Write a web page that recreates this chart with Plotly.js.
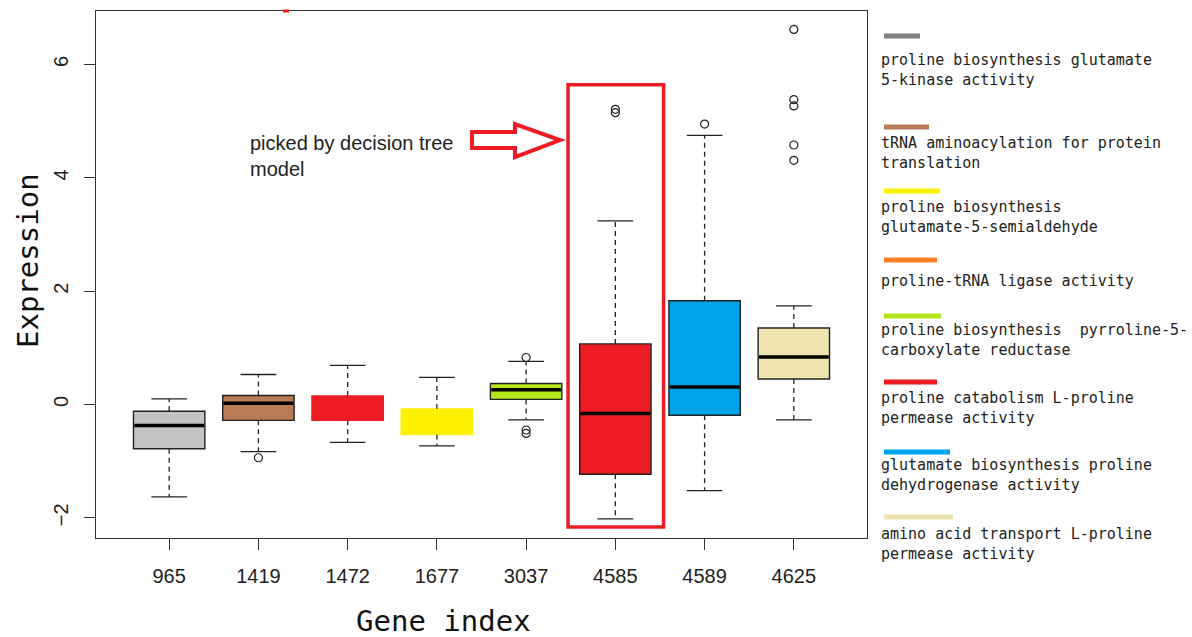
<!DOCTYPE html>
<html>
<head>
<meta charset="utf-8">
<script src="https://cdn.plot.ly/plotly-3.0.1.min.js"></script>
<style>html,body{margin:0;padding:0;background:#fff;}#chart{width:1192px;height:637px;}</style>
</head>
<body>
<div id="chart"></div>
<script>
// ---- data ----
const genes      = ['965','1419','1472','1677','3037','4585','4589','4625'];
const q1         = [-0.78, -0.28, -0.28, -0.53, 0.09, -1.23, -0.19, 0.45];
const medians    = [-0.37,  0.02, -0.07, -0.30, 0.26, -0.16,  0.31, 0.84];
const q3         = [-0.12,  0.16,  0.15, -0.08, 0.37,  1.07,  1.83, 1.35];
const lowWhisker = [-1.63, -0.83, -0.67, -0.73, -0.27, -2.02, -1.52, -0.27];
const highWhisker= [ 0.10,  0.53,  0.69,  0.48,  0.76,  3.24,  4.75, 1.74];
const outliers   = [[], [-0.94], [], [], [0.83, -0.45, -0.51], [5.15, 5.21], [4.95], [6.62, 5.38, 5.27, 4.58, 4.31]];

const legendLabels = [
  ['proline biosynthesis glutamate', '5-kinase activity'],
  ['tRNA aminoacylation for protein', 'translation'],
  ['proline biosynthesis', 'glutamate-5-semialdehyde'],
  ['proline-tRNA ligase activity'],
  ['proline biosynthesis\u00a0\u00a0pyrroline-5-', 'carboxylate reductase'],
  ['proline catabolism L-proline', 'permease activity'],
  ['glutamate biosynthesis proline', 'dehydrogenase activity'],
  ['amino acid transport L-proline', 'permease activity']
];
const noteLines = ['picked by decision tree', 'model'];
const xTitle = 'Gene index';
const yTitle = 'Expression';
const highlighted = '4585';

// ---- styles ----
const boxFill   = ['#C3C3C3','#B97A57','#ED1C24','#FFF200','#B5E61D','#ED1C24','#00A2E8','#EFE4B0'];
const boxLine   = ['#222','#222','#ED1C24','#FFF200','#222','#222','#222','#222'];
const legendCol = ['#7F7F7F','#B97A57','#FFF200','#FF7F27','#B5E61D','#ED1C24','#00A2E8','#EFE4B0'];
const legendSwY = [36,127,191,260,316,382,452,517];
const legendSwX1= [922,931,942,939,943,939,952,955];
const legendTxY = [63,146,210,281,333,401,468,537];

// plot area in pixels
const PL = 96, PR = 867, PT = 11, PB = 538;
const px = x => (x - PL) / (PR - PL);
const py = y => (PB - y) / (PB - PT);

const pos = genes.map((g, i) => i + 1);
const traces = [];

// whiskers (dashed) + caps
const wx = [], wy = [], cx = [], cy = [];
pos.forEach((p, i) => {
  wx.push(p, p, null, p, p, null);
  wy.push(q3[i], highWhisker[i], null, q1[i], lowWhisker[i], null);
  cx.push(p - 0.2, p + 0.2, null, p - 0.2, p + 0.2, null);
  cy.push(highWhisker[i], highWhisker[i], null, lowWhisker[i], lowWhisker[i], null);
});
traces.push({type:'scatter', mode:'lines', x:wx, y:wy, line:{color:'#222', width:1.3, dash:'5px,4px'}, hoverinfo:'skip', showlegend:false});
traces.push({type:'scatter', mode:'lines', x:cx, y:cy, line:{color:'#222', width:1.3}, hoverinfo:'skip', showlegend:false});

// outliers
const ox = [], oy = [];
outliers.forEach((arr, i) => arr.forEach(v => { ox.push(pos[i]); oy.push(v); }));
traces.push({type:'scatter', mode:'markers', x:ox, y:oy, marker:{symbol:'circle-open', size:8, color:'#222', line:{width:1.2}}, showlegend:false});

// boxes
pos.forEach((p, i) => {
  traces.push({
    type:'box', x:[p], q1:[q1[i]], median:[medians[i]], q3:[q3[i]],
    lowerfence:[q1[i]], upperfence:[q3[i]], width:0.8, whiskerwidth:0,
    fillcolor:boxFill[i], line:{color:boxLine[i], width:1.4}, boxpoints:false,
    name:genes[i], showlegend:false
  });
});
// thick medians
pos.forEach((p, i) => {
  if (boxLine[i] !== '#222') return;
  traces.push({
    type:'box', x:[p], q1:[medians[i]], median:[medians[i]], q3:[medians[i]],
    lowerfence:[medians[i]], upperfence:[medians[i]], width:0.78, whiskerwidth:0,
    fillcolor:'rgba(0,0,0,0)', line:{color:'#000', width:3.5}, boxpoints:false,
    showlegend:false, hoverinfo:'skip'
  });
});

// shapes: highlight rectangle, arrow, legend swatches
const hi = genes.indexOf(highlighted) + 1;
const shapes = [
  {type:'rect', xref:'x', yref:'y', x0:hi-0.53, x1:hi+0.54, y0:-2.16, y1:5.645, line:{color:'#ED1C24', width:3.5}},
  {type:'path', xref:'paper', yref:'paper',
   path:`M ${px(472)},${py(132)} L ${px(515)},${py(132)} L ${px(515)},${py(124)} L ${px(560)},${py(140)} L ${px(515)},${py(157)} L ${px(515)},${py(148)} L ${px(472)},${py(148)} Z`,
   fillcolor:'#fff', line:{color:'#ED1C24', width:4}},
  {type:'rect', xref:'paper', yref:'paper', x0:px(283), x1:px(289), y0:py(12.5), y1:py(9.5), fillcolor:'#ED1C24', line:{width:0}}
];
legendCol.forEach((c, i) => {
  shapes.push({type:'line', xref:'paper', yref:'paper', x0:px(884), x1:px(legendSwX1[i]-2), y0:py(legendSwY[i]), y1:py(legendSwY[i]),
    line:{color:c, width:5}});
});

const annotations = [];
legendLabels.forEach((lines, i) => {
  const mid = legendTxY[i] + (lines.length - 1) * 14.3 / 2;
  annotations.push({xref:'paper', yref:'paper', x:px(880), y:py(mid), xanchor:'left', yanchor:'middle', align:'left',
    text:lines.join('<br>'), showarrow:false, borderpad:0, font:{family:'DejaVu Sans Mono', size:15, color:'#222'}});
});
annotations.push({xref:'paper', yref:'paper', x:px(249), y:py(156), xanchor:'left', yanchor:'middle', align:'left',
  text:noteLines.join('<br>'), showarrow:false, borderpad:0, font:{family:'Liberation Sans, Arial', size:20, color:'#222'}});
// axis titles placed as in the reference (offset from plot centre)
annotations.push({xref:'paper', yref:'paper', x:px(443), y:py(621), xanchor:'center', yanchor:'middle',
  text:xTitle, showarrow:false, font:{family:'DejaVu Sans Mono', size:29, color:'#111'}});
annotations.push({xref:'paper', yref:'paper', x:px(28), y:py(261), xanchor:'center', yanchor:'middle', textangle:-90,
  text:yTitle, showarrow:false, font:{family:'DejaVu Sans Mono', size:29, color:'#111'}});

const layout = {
  width:1192, height:637,
  margin:{l:PL, r:1192-PR, t:PT, b:637-PB},
  paper_bgcolor:'#fff', plot_bgcolor:'#fff',
  showlegend:false,
  xaxis:{range:[0.18, 8.82], tickvals:pos, ticktext:genes, showgrid:false, zeroline:false,
    showline:true, mirror:true, linecolor:'#333', linewidth:1.3, ticks:'outside', ticklen:11, tickcolor:'#333',
    ticklabelstandoff:9,
    tickfont:{family:'Liberation Sans, Arial', size:20, color:'#222'}},
  yaxis:{range:[-2.356, 6.945], tickvals:[-2,0,2,4,6], showgrid:false, zeroline:false,
    showline:true, mirror:true, linecolor:'#333', linewidth:1.3, ticks:'outside', ticklen:11, tickcolor:'#333',
    tickangle:-90, ticklabelstandoff:8,
    tickfont:{family:'Liberation Sans, Arial', size:20, color:'#222'}},
  shapes:shapes, annotations:annotations
};

Plotly.newPlot('chart', traces, layout, {displayModeBar:false, staticPlot:true});
</script>
</body>
</html>
